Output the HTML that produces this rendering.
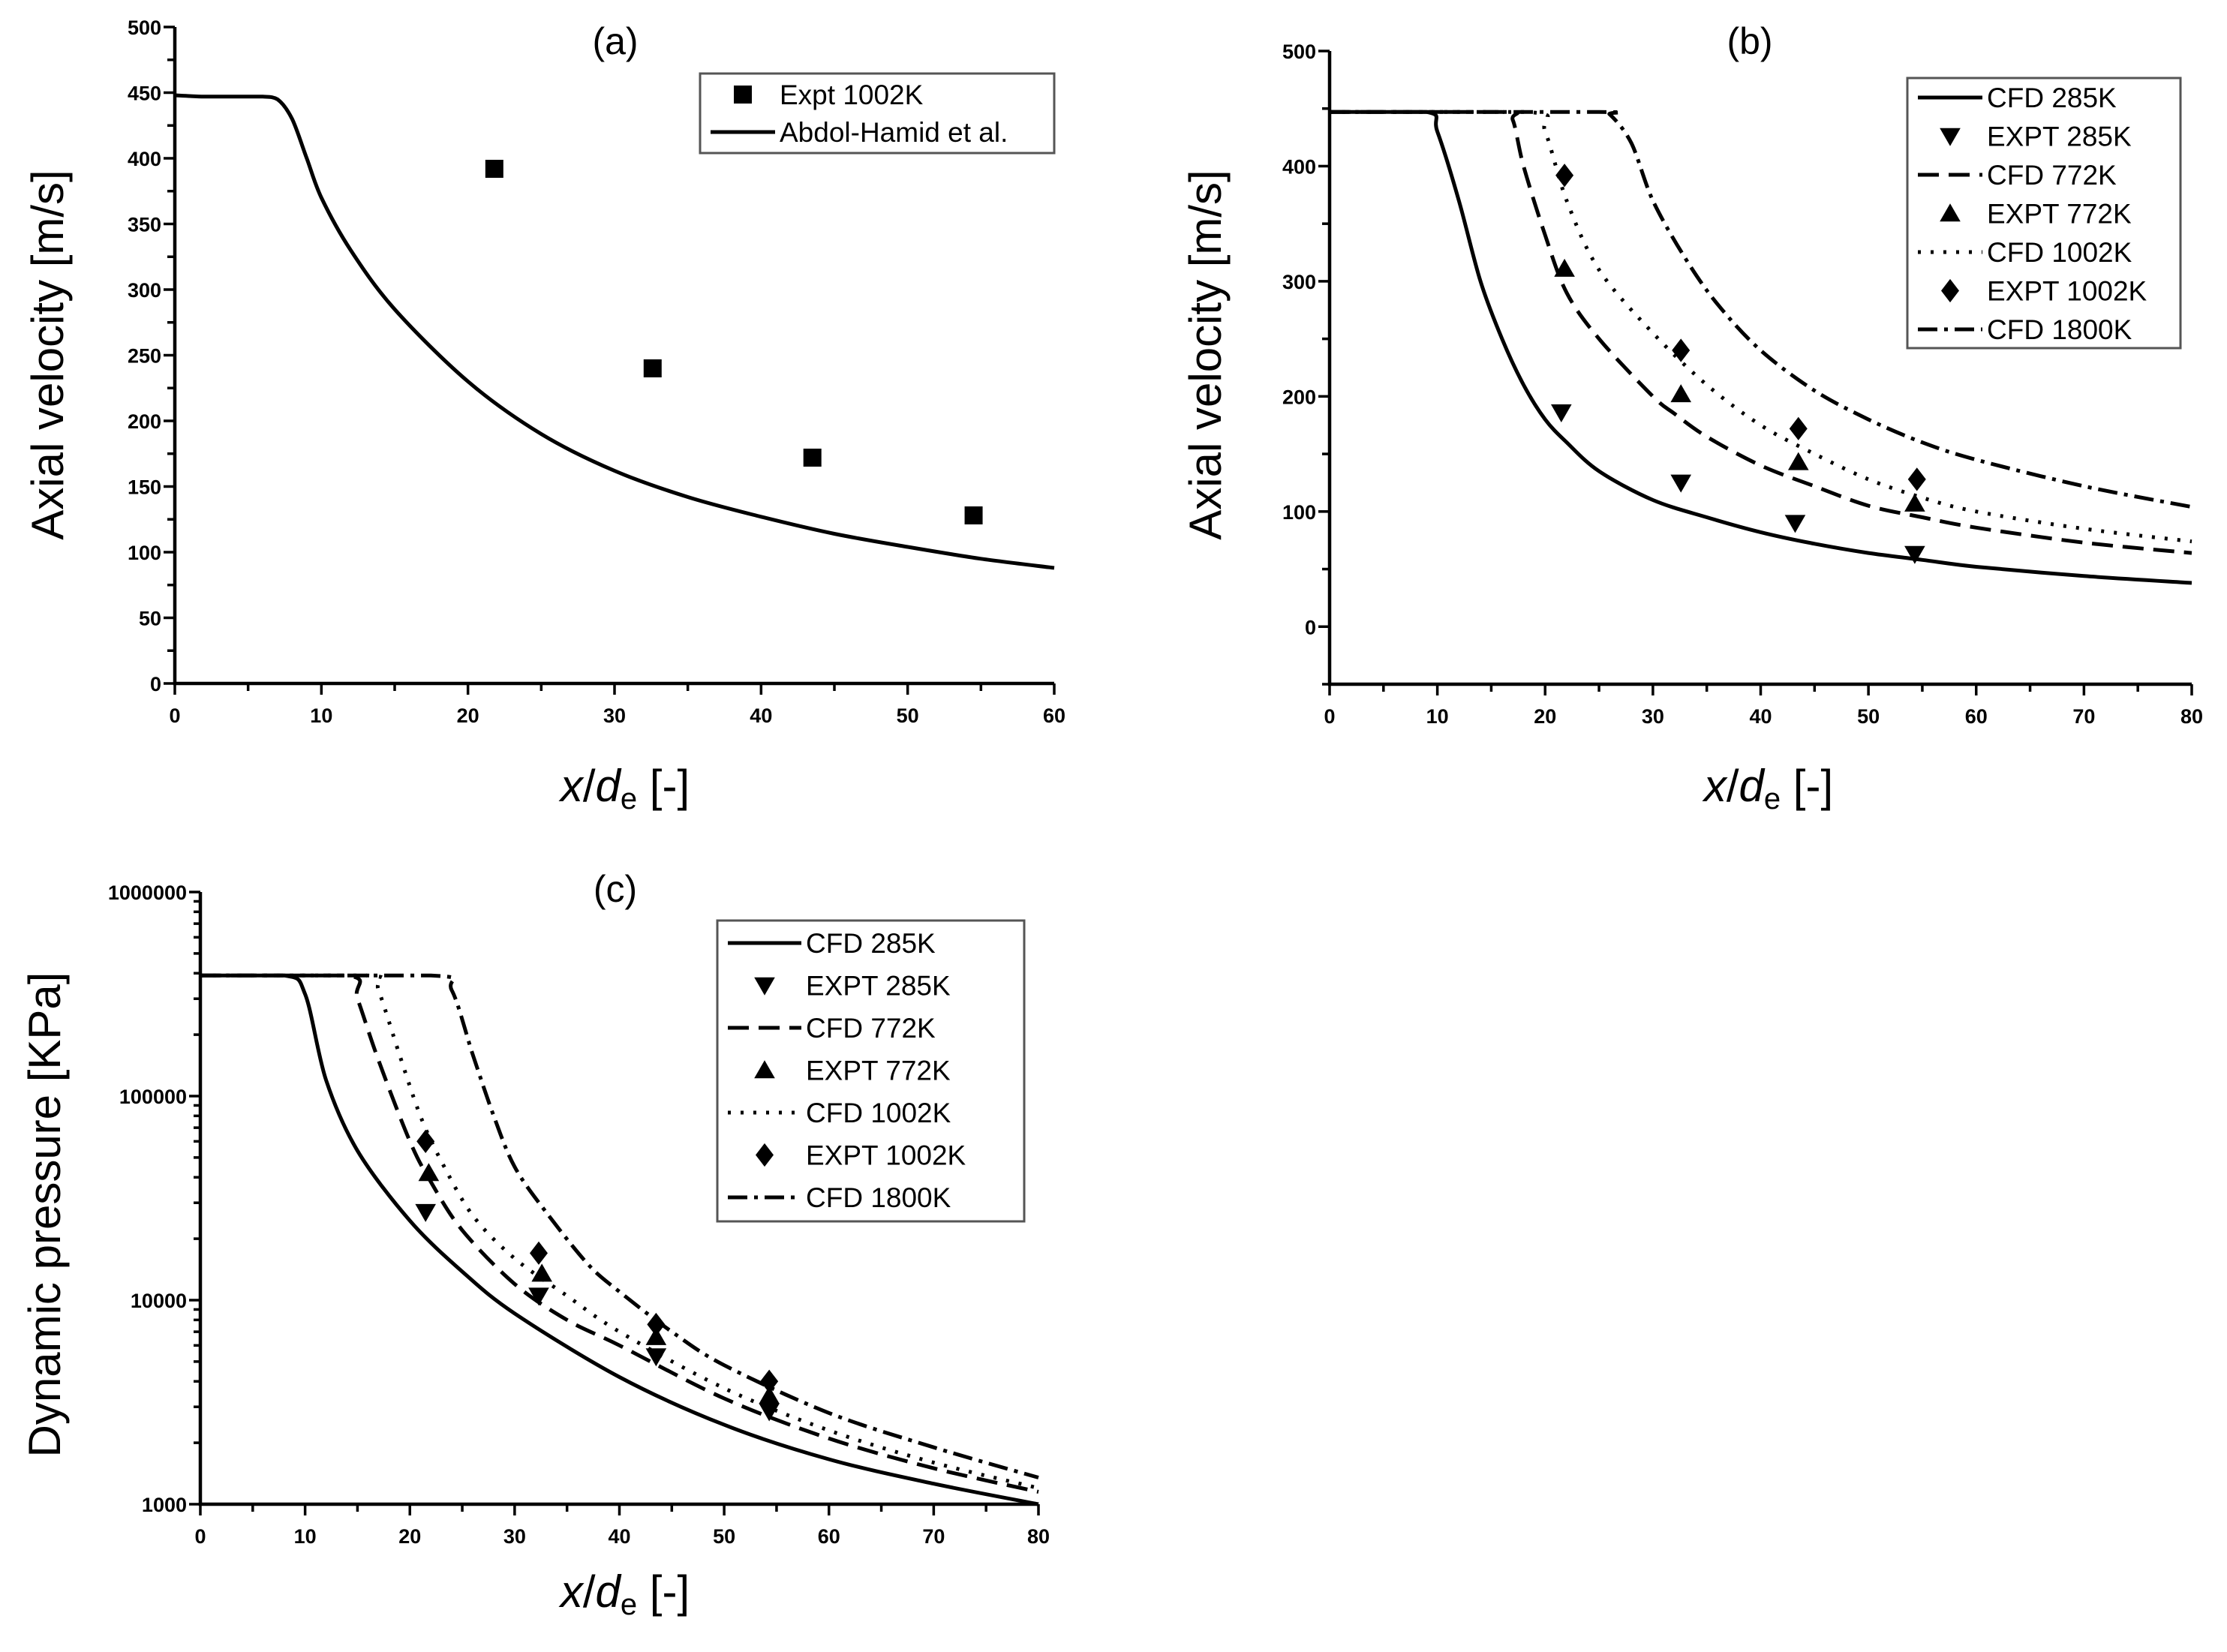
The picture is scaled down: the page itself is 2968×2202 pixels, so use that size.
<!DOCTYPE html>
<html><head><meta charset="utf-8"><style>
html,body{margin:0;padding:0;background:#fff}
svg{display:block}
text{font-family:"Liberation Sans",Arial,sans-serif;fill:#000}
.tick{font-size:27px;font-weight:bold}
.ax{font-size:60px}
.leg{font-size:37px}
.ttl{font-size:50px}
</style></head><body>
<svg id="fig" width="2968" height="2202" viewBox="0 0 2968 2202" xmlns="http://www.w3.org/2000/svg"></svg>
<script>
// ---- Panel (a) data ----
const aCfdX=[0,2,4,6,7,8,9,10,12,15,20,25,30,35,40,45,50,55,60];
const aCfdY=[448,447,447,447,445,430,400,370,330,285,230,190,162,142,127,114,104,95,88];
const aExpX=[21.8,32.6,43.5,54.5];
const aExpY=[392,240,172,128];
// ---- Panel (b) data ----
const b285X=[0,9,10,12,14,16,18,20,22,25,30,35,40,45,50,55,60,70,80];
const b285Y=[447,447,430,370,300,250,210,180,160,135,110,95,82,72,64,58,52,44,38];
const b772X=[0,16,17,18,20,22,25,30,32,35,40,45,50,55,60,70,80];
const b772Y=[447,447,440,400,340,290,250,200,185,165,140,122,105,95,86,73,64];
const b1002X=[0,18.5,20,22,25,30,35,40,45,50,55,60,70,80];
const b1002Y=[447,447,430,370,310,255,210,175,150,128,112,100,85,74];
const b1800X=[0,25,26,28,30,33,36,40,45,50,55,60,70,80];
const b1800Y=[447,447,445,420,370,320,280,240,205,180,160,145,122,104];
const bE285X=[21.5,32.6,43.2,54.3], bE285Y=[186,125,90,63];
const bE772X=[21.8,32.6,43.5,54.3], bE772Y=[311,202,143,107];
const bE1002X=[21.8,32.6,43.5,54.5], bE1002Y=[392,240,172,128];
// ---- Panel (c) data ----
const c285X=[0,8,10,12,15,20,25,30,40,50,60,70,80];
const c285Y=[390000,390000,316000,120000,54000,24500,13800,8600,4200,2450,1660,1260,1000];
const c772X=[0,14,15,17,20,22,25,30,35,40,50,60,70,80];
const c772Y=[390000,390000,300000,150000,60000,38000,22000,12000,8000,6000,3300,2100,1500,1150];
const c1002X=[0,16,17,19,21,23,26,30,35,40,50,60,70,80];
const c1002Y=[390000,390000,330000,160000,80000,48000,26000,16000,10500,7000,3700,2300,1600,1200];
const c1800X=[0,22,24,26,28,30,33,37,40,45,50,60,70,80];
const c1800Y=[390000,390000,330000,160000,80000,45000,27000,15000,11000,7000,4800,2800,1900,1350];
const cE285X=[21.5,32.3,43.5,54.3], cE285Y=[27000,10500,5300,2850];
const cE772X=[21.8,32.6,43.5,54.3], cE772Y=[42000,13500,6600,3400];
const cE1002X=[21.5,32.3,43.5,54.3], cE1002Y=[60000,17000,7600,4000];
const xTicksA=[0,10,20,30,40,50,60];
const yTicksA=[0,50,100,150,200,250,300,350,400,450,500];
const xTicksB=[0,10,20,30,40,50,60,70,80];
const yTicksB=[0,100,200,300,400,500];
const yTicksC=[1000,10000,100000,1000000];

const NS="http://www.w3.org/2000/svg";
const fig=document.getElementById('fig');
function mk(tag,attrs,parent){const e=document.createElementNS(NS,tag);for(const k in attrs)e.setAttribute(k,attrs[k]);(parent||fig).appendChild(e);return e;}
function txt(s,attrs,parent){const e=mk('text',attrs,parent);e.textContent=s;return e;}

const styles={solid:'',dash:'28,13',dot:'4,13',dashdot:'26,9,5,9'};
function marker(g,type,cx,cy){
  const s=12;let d;
  if(type==='square') d=`M${cx-s} ${cy-s}h${2*s}v${2*s}h${-2*s}z`;
  else if(type==='down') d=`M${cx-s*1.15} ${cy-s*0.9}L${cx+s*1.15} ${cy-s*0.9}L${cx} ${cy+s*1.1}z`;
  else if(type==='up') d=`M${cx-s*1.15} ${cy+s*0.9}L${cx+s*1.15} ${cy+s*0.9}L${cx} ${cy-s*1.1}z`;
  else d=`M${cx} ${cy-s*1.3}L${cx+s} ${cy}L${cx} ${cy+s*1.3}L${cx-s} ${cy}z`;
  return mk('path',{d:d,fill:'#000'},g);
}
// monotone-ish smooth path through pixel points (Catmull-Rom, clamped)
function smooth(P){
  let d=`M${P[0][0].toFixed(1)} ${P[0][1].toFixed(1)}`;
  for(let i=0;i<P.length-1;i++){
    const p0=P[Math.max(0,i-1)],p1=P[i],p2=P[i+1],p3=P[Math.min(P.length-1,i+2)];
    const t=0.16;
    let c1=[p1[0]+(p2[0]-p0[0])*t,p1[1]+(p2[1]-p0[1])*t];
    let c2=[p2[0]-(p3[0]-p1[0])*t,p2[1]-(p3[1]-p1[1])*t];
    const lo=Math.min(p1[1],p2[1]),hi=Math.max(p1[1],p2[1]);
    c1[1]=Math.min(hi,Math.max(lo,c1[1]));c2[1]=Math.min(hi,Math.max(lo,c2[1]));
    d+=` C${c1[0].toFixed(1)} ${c1[1].toFixed(1)} ${c2[0].toFixed(1)} ${c2[1].toFixed(1)} ${p2[0].toFixed(1)} ${p2[1].toFixed(1)}`;
  }
  return d;
}

function panel(cfg){
  const g=mk('g',{});
  
  
  const X=v=>cfg.x0+(v-cfg.xmin)/(cfg.xmax-cfg.xmin)*(cfg.x1-cfg.x0);
  const Y=cfg.log?(v=>cfg.y0+(Math.log10(v)-Math.log10(cfg.ymin))/(Math.log10(cfg.ymax)-Math.log10(cfg.ymin))*(cfg.y1-cfg.y0))
                 :(v=>cfg.y0+(v-cfg.ymin)/(cfg.ymax-cfg.ymin)*(cfg.y1-cfg.y0));
  const ax=mk('path',{d:`M${cfg.x0} ${cfg.y1}V${cfg.y0}H${cfg.x1}`,stroke:'#000','stroke-width':4.5,fill:'none'},g);
  
  
  const xt=mk('g',{},g);
  
  
  for(let v=cfg.xmin;v<=cfg.xmax+0.001;v+=5){
    const major=cfg.xTicks.includes(v);
    mk('line',{x1:X(v),x2:X(v),y1:cfg.y0,y2:cfg.y0+(major?15:10),stroke:'#000','stroke-width':3.5},xt);
  }
  cfg.xTicks.forEach(v=>txt(String(v),{x:X(v),y:cfg.y0+52,'text-anchor':'middle',class:'tick'},xt));
  const yt=mk('g',{},g);
  
  
  if(cfg.log){
    for(let d=Math.log10(cfg.ymin);d<Math.log10(cfg.ymax);d++){
      for(let m=1;m<10;m++){const v=m*Math.pow(10,d);mk('line',{x1:cfg.x0,x2:cfg.x0-(m===1?15:9),y1:Y(v),y2:Y(v),stroke:'#000','stroke-width':3.5},yt);}
    }
    mk('line',{x1:cfg.x0,x2:cfg.x0-15,y1:Y(cfg.ymax),y2:Y(cfg.ymax),stroke:'#000','stroke-width':3.5},yt);
  } else {
    for(let v=cfg.ymin;v<=cfg.ymax+0.001;v+=cfg.yMinor){
      const major=cfg.yTicks.includes(v);
      mk('line',{x1:cfg.x0,x2:cfg.x0-(major?15:10),y1:Y(v),y2:Y(v),stroke:'#000','stroke-width':3.5},yt);
    }
  }
  cfg.yTicks.forEach(v=>txt(String(v),{x:cfg.x0-18,y:Y(v)+10,'text-anchor':'end',class:'tick'},yt));
  const xl=txt('',{x:cfg.xl[0],y:cfg.xl[1],'text-anchor':'middle',class:'ax'},g);
  
  
  xl.innerHTML='<tspan font-style="italic">x</tspan>/<tspan font-style="italic">d</tspan><tspan font-size="40" dy="10">e</tspan><tspan dy="-10"> [-]</tspan>';
  const yl=txt(cfg.ylabel,{x:0,y:0,'text-anchor':'middle',class:'ax',transform:`translate(${cfg.yl[0]},${cfg.yl[1]}) rotate(-90)`},g);
  
  
  const tt=txt(cfg.title,{x:cfg.tt[0],y:cfg.tt[1],'text-anchor':'middle',class:'ttl'},g);
  
  
  cfg.lines.forEach(s=>{
    const P=s.x.map((v,i)=>[X(v),Y(s.y[i])]);
    const p=mk('path',{d:smooth(P),fill:'none',stroke:'#000','stroke-width':5,'stroke-dasharray':styles[s.style],'stroke-linejoin':'round'},g);
    
    
  });
  cfg.points.forEach(s=>{
    const pg=mk('g',{},g);
    
    
    s.x.forEach((v,i)=>marker(pg,s.m,X(v),Y(s.y[i])));
  });
  const L=cfg.legend;
  const lg=mk('g',{},g);
  
  
  mk('rect',{x:L.x,y:L.y,width:L.w,height:L.h,fill:'#fff',stroke:'#555','stroke-width':3},lg);
  L.items.forEach((it,i)=>{
    const cy=L.y+L.pad+i*L.step;
    const eg=mk('g',{},lg);
    
    
    if(it.style) mk('line',{x1:L.x+14,x2:L.x+L.sw,y1:cy,y2:cy,stroke:'#000','stroke-width':5,'stroke-dasharray':styles[it.style]},eg);
    else marker(eg,it.m,L.x+14+(L.sw-14)/2,cy);
    txt(it.t,{x:L.x+L.sw+6,y:cy+13,class:'leg'},eg);
  });
}

panel({name:'panel-a',x0:233,x1:1405,y0:911,y1:36,xmin:0,xmax:60,ymin:0,ymax:500,yMinor:25,
  xTicks:xTicksA,yTicks:yTicksA,xl:[833,1068],yl:[84,473],tt:[820,72],title:'(a)',ylabel:'Axial velocity [m/s]',
  lines:[{id:'abdol-hamid-line',x:aCfdX,y:aCfdY,style:'solid'}],
  points:[{id:'expt-1002k-points',x:aExpX,y:aExpY,m:'square'}],
  legend:{x:933,y:98,w:472,h:106,pad:28,step:50,sw:100,items:[{m:'square',t:'Expt 1002K'},{style:'solid',t:'Abdol-Hamid et al.'}]}});

panel({name:'panel-b',x0:1772,x1:2921,y0:912,y1:68,xmin:0,xmax:80,ymin:-50,ymax:500,yMinor:50,
  xTicks:xTicksB,yTicks:yTicksB,xl:[2357,1068],yl:[1627,473],tt:[2332,72],title:'(b)',ylabel:'Axial velocity [m/s]',
  lines:[{id:'cfd-285k-line',x:b285X,y:b285Y,style:'solid'},{id:'cfd-772k-line',x:b772X,y:b772Y,style:'dash'},
         {id:'cfd-1002k-line',x:b1002X,y:b1002Y,style:'dot'},{id:'cfd-1800k-line',x:b1800X,y:b1800Y,style:'dashdot'}],
  points:[{id:'expt-285k-points',x:bE285X,y:bE285Y,m:'down'},{id:'expt-772k-points',x:bE772X,y:bE772Y,m:'up'},{id:'expt-1002k-points',x:bE1002X,y:bE1002Y,m:'diamond'}],
  legend:{x:2542,y:104,w:364,h:360,pad:26,step:51.5,sw:100,items:[{style:'solid',t:'CFD 285K'},{m:'down',t:'EXPT 285K'},{style:'dash',t:'CFD 772K'},{m:'up',t:'EXPT 772K'},{style:'dot',t:'CFD 1002K'},{m:'diamond',t:'EXPT 1002K'},{style:'dashdot',t:'CFD 1800K'}]}});

panel({name:'panel-c',x0:267,x1:1384,y0:2005,y1:1189,xmin:0,xmax:80,ymin:1000,ymax:1000000,log:true,
  xTicks:xTicksB,yTicks:yTicksC,xl:[833,2142],yl:[80,1619],tt:[820,1202],title:'(c)',ylabel:'Dynamic pressure [KPa]',
  lines:[{id:'cfd-285k-line',x:c285X,y:c285Y,style:'solid'},{id:'cfd-772k-line',x:c772X,y:c772Y,style:'dash'},
         {id:'cfd-1002k-line',x:c1002X,y:c1002Y,style:'dot'},{id:'cfd-1800k-line',x:c1800X,y:c1800Y,style:'dashdot'}],
  points:[{id:'expt-285k-points',x:cE285X,y:cE285Y,m:'down'},{id:'expt-772k-points',x:cE772X,y:cE772Y,m:'up'},{id:'expt-1002k-points',x:cE1002X,y:cE1002Y,m:'diamond'}],
  legend:{x:956,y:1227,w:409,h:401,pad:30,step:56.5,sw:112,items:[{style:'solid',t:'CFD 285K'},{m:'down',t:'EXPT 285K'},{style:'dash',t:'CFD 772K'},{m:'up',t:'EXPT 772K'},{style:'dot',t:'CFD 1002K'},{m:'diamond',t:'EXPT 1002K'},{style:'dashdot',t:'CFD 1800K'}]}});
</script>
</body></html>
